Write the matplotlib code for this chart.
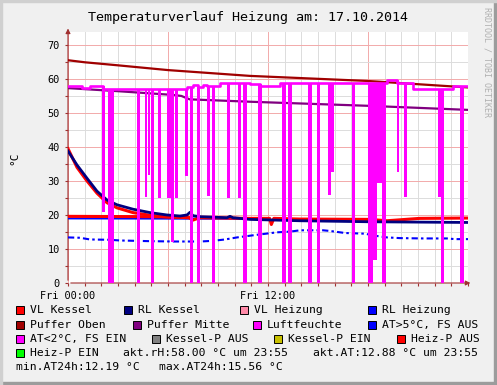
import matplotlib
matplotlib.use('Agg')
import matplotlib.pyplot as plt
from matplotlib.patches import Rectangle
from matplotlib.ticker import MultipleLocator, FixedLocator, FixedFormatter

# time axis in hours since Fri 00:00
# Puffer Oben / Puffer Mitte
puffer_oben_t = [0, 1, 3, 6, 10.9, 18, 24]
puffer_oben_v = [65.5, 64.9, 64.0, 62.6, 60.9, 59.4, 57.5]
puffer_mitte_t = [0, 3, 6.3, 6.8, 7.3, 10.9, 18, 24]
puffer_mitte_v = [57.3, 56.4, 55.3, 55.0, 54.0, 53.3, 52.1, 50.9]

# RL Kessel (navy) and VL Kessel (red)
rl_kessel_t = [0, 0.54, 1.14, 1.74, 2.34, 2.94, 3.9, 4.92, 5.94, 6.72, 7.14, 7.32, 7.5, 7.92,
               9.54, 9.72, 9.9, 10.92, 13.92, 18.12, 24]
rl_kessel_v = [38.8, 34.7, 30.8, 27.0, 24.4, 23.0, 21.7, 20.7, 20.0, 19.7, 20.0, 20.8, 19.8, 19.5,
               19.2, 19.6, 19.2, 18.7, 18.3, 18.0, 17.8]
vl_kessel_t = [0, 0.54, 1.14, 1.74, 2.34, 2.94, 3.9, 4.92, 5.94, 7.32]
vl_kessel_v = [39.5, 34.0, 30.0, 26.4, 23.6, 22.1, 20.7, 19.9, 19.4, 19.2]

# flat red line (heating flow) and RL Heizung
vl_flat_t = [0, 4.92, 7.2, 7.5, 7.9, 10.92, 12.1, 12.2, 12.35, 13.9, 18.1, 19.14, 21.1, 24]
vl_flat_v = [19.6, 19.5, 19.4, 18.5, 19.2, 19.0, 19.0, 17.2, 19.0, 18.8, 18.7, 18.3, 19.0, 19.1]
rl_heiz_t = [0, 10.92]
rl_heiz_v = [19.0, 18.9]

# outside temperature
at_t = [0, 0.72, 1.32, 2.52, 3.12, 4.02, 4.92, 6.42, 7.92, 8.7, 9.42, 10.14, 11.22, 12.54, 13.32,
        13.92, 15.3, 15.72, 16.62, 17.82, 18.42, 19.14, 19.92, 21.3, 22.74, 23.22, 24]
at_v = [13.4, 13.3, 12.8, 12.7, 12.5, 12.4, 12.3, 12.2, 12.2, 12.4, 12.8, 13.4, 14.1, 14.9, 15.1,
        15.5, 15.5, 15.3, 14.7, 14.5, 13.9, 13.4, 13.2, 13.1, 13.1, 12.9, 12.9]

# Luftfeuchte base level (steps) and drops
rh_t = [0, 0.84, 1.32, 2.1, 7.14, 7.5, 7.8, 8.1, 8.34, 9.12, 10.92, 11.52, 12.72, 19.14, 19.74, 20.7, 23.1, 24]
rh_v = [58, 57.3, 58, 57, 57.6, 58.2, 57.6, 58.3, 58, 58.8, 58.5, 58, 58.9, 59.6, 58.9, 57, 57.8, 57.8]
drop_start = [2.04, 2.40, 4.14, 4.59, 4.77, 4.98, 5.40, 5.94, 6.18, 6.42, 7.02, 7.32, 7.74, 8.34, 8.64,
              9.54, 10.20, 10.50, 11.40, 12.84, 13.20, 14.40, 14.94, 15.60, 15.78, 17.04, 18.00, 18.30,
              18.48, 18.84, 19.71, 20.16, 22.20, 22.38, 23.52]
drop_end = [2.19, 2.73, 4.32, 4.74, 4.92, 5.13, 5.55, 6.36, 6.36, 6.57, 7.17, 7.50, 7.89, 8.49, 8.79,
            9.72, 10.35, 10.71, 11.64, 13.08, 13.44, 14.61, 15.12, 15.78, 15.96, 17.19, 18.30, 18.54,
            18.84, 19.05, 19.83, 20.34, 22.38, 22.56, 23.73]
drop_bottom = [21, 0, 0, 25.4, 31.8, 0, 25, 25, 12.2, 25, 31.5, 0, 0, 25.6, 0,
               25, 25, 0, 0, 0, 0, 0, 0, 25.8, 32.7, 0, 0, 6.8,
               29.4, 0, 32.7, 25.4, 25.4, 0, 0]
drop_top = [58, 57, 57, 57, 57, 57, 57, 57, 57, 57, 57, 57.5, 57.5, 58, 58,
            58.8, 58.8, 58.8, 58.5, 58.9, 58.9, 58.9, 58.9, 58.9, 58.9, 58.9, 58.9, 58.9,
            58.9, 58.9, 59.6, 58.9, 57, 57, 57.8]

legend_items = [
    ('VL Kessel', '#FF0000', 16, 310), ('RL Kessel', '#000080', 124, 310),
    ('VL Heizung', '#FF8AA8', 240, 310), ('RL Heizung', '#0000FF', 368, 310),
    ('Puffer Oben', '#A00000', 16, 325), ('Puffer Mitte', '#800080', 133, 325),
    ('Luftfeuchte', '#FF00FF', 253, 325), ('AT>5°C, FS AUS', '#0000FF', 368, 325),
    ('AT<2°C, FS EIN', '#FF00FF', 16, 339), ('Kessel-P AUS', '#808080', 152, 339),
    ('Kessel-P EIN', '#C8C000', 274, 339), ('Heiz-P AUS', '#FF0000', 397, 339),
    ('Heiz-P EIN', '#00FF00', 16, 353),
]
info_texts = [
    ('akt.rH:58.00 °C um 23:55', 123, 353), ('akt.AT:12.88 °C um 23:55', 313, 353),
    ('min.AT24h:12.19 °C', 16, 367), ('max.AT24h:15.56 °C', 159, 367),
]

W, H = 497, 385
mono = 'DejaVu Sans Mono'
fig = plt.figure(figsize=(W / 100, H / 100), dpi=100, facecolor='#F0F0F0')

def px(x, y):
    return x / W, 1 - y / H

# frame shading
fig.patches.append(Rectangle((0, 0), 1, 3 / H, transform=fig.transFigure, color='#9C9C9C', zorder=0))
fig.patches.append(Rectangle((1 - 3 / W, 0), 3 / W, 1, transform=fig.transFigure, color='#9C9C9C', zorder=0))
fig.patches.append(Rectangle((0, 1 - 2 / H), 1, 2 / H, transform=fig.transFigure, color='#D0D0D0', zorder=0))
fig.patches.append(Rectangle((0, 0), 2 / W, 1, transform=fig.transFigure, color='#D0D0D0', zorder=0))

ax = fig.add_axes([68 / W, (H - 283) / H, 400 / W, (283 - 32) / H])
ax.set_facecolor('white')
ax.set_xlim(0, 24)
ax.set_ylim(0, 73.8)

ax.yaxis.set_major_locator(MultipleLocator(10))
ax.yaxis.set_minor_locator(MultipleLocator(5))
ax.xaxis.set_major_locator(FixedLocator([0, 6, 12, 18]))
ax.xaxis.set_major_formatter(FixedFormatter(['Fri 00:00', '', 'Fri 12:00', '']))
ax.xaxis.set_minor_locator(MultipleLocator(1))
ax.grid(True, which='minor', color='#DCDCDC', lw=0.7)
ax.grid(True, which='major', color='#F2AAAA', lw=0.7)
ax.set_axisbelow(True)
for s in ax.spines.values():
    s.set_visible(False)
ax.tick_params(which='both', length=2, color='#A03030', width=0.8, labelsize=7.4, pad=4)
for lab in ax.get_xticklabels() + ax.get_yticklabels():
    lab.set_family(mono)

# axes with arrows
ax.annotate('', xy=(1.013, 0), xytext=(0, 0), xycoords='axes fraction',
            arrowprops=dict(arrowstyle='-|>', color='#A03030', lw=0.8, mutation_scale=7), annotation_clip=False)
ax.annotate('', xy=(0, 1.025), xytext=(0, 0), xycoords='axes fraction',
            arrowprops=dict(arrowstyle='-|>', color='#A03030', lw=0.8, mutation_scale=7), annotation_clip=False)

ax.plot(puffer_oben_t, puffer_oben_v, color='#A00000', lw=1.6, zorder=3)
ax.plot(puffer_mitte_t, puffer_mitte_v, color='#800080', lw=1.6, zorder=3)
ax.plot(at_t, at_v, color='#0000FF', lw=1.5, dashes=(3, 1.5, 1.2, 1.5), zorder=3)
ax.plot(rl_heiz_t, rl_heiz_v, color='#0000FF', lw=1.5, zorder=3)
ax.plot(vl_flat_t, vl_flat_v, color='#FF0000', lw=2.2, zorder=4)
ax.plot(vl_kessel_t, vl_kessel_v, color='#FF0000', lw=2.2, zorder=4)
ax.plot(rl_kessel_t, rl_kessel_v, color='#000080', lw=2.0, zorder=5)

# Luftfeuchte
ax.step(rh_t, rh_v, where='post', color='#FF00FF', lw=1.9, zorder=6)
heights = [t - b for t, b in zip(drop_top, drop_bottom)]
widths = [e - s for s, e in zip(drop_start, drop_end)]
ax.bar(drop_start, heights, width=widths, bottom=drop_bottom, align='edge', color='#FF00FF', lw=0, zorder=6)

# texts
fig.text(*px(248, 17), 'Temperaturverlauf Heizung am: 17.10.2014', ha='center', va='center',
         family=mono, size=9.6)
fig.text(*px(14, 158), '°C', rotation=90, ha='center', va='center', family=mono, size=8)
fig.text(*px(487, 62), 'RRDTOOL / TOBI OETIKER', rotation=270, ha='center', va='center',
         family=mono, size=6, color='#B0B0B0')

for name, col, x, y in legend_items:
    fig.patches.append(Rectangle(px(x, y + 4), 8 / W, 8 / H, transform=fig.transFigure,
                                 facecolor=col, edgecolor='black', lw=0.7))
    fig.text(*px(x + 14, y), name, ha='left', va='center', family=mono, size=8.2)
for s, x, y in info_texts:
    fig.text(*px(x, y), s, ha='left', va='center', family=mono, size=8.2)

fig.savefig('out.png', dpi=100, facecolor=fig.get_facecolor())
